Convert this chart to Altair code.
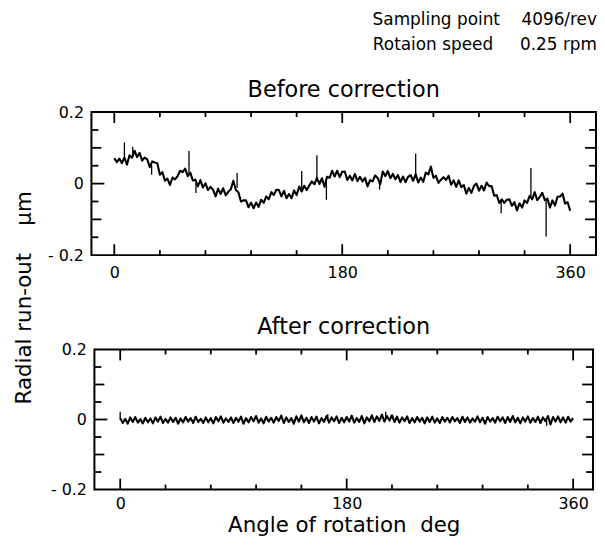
import altair as alt
import pandas as pd

# ---------------- data ----------------
ANGLES = list(range(0, 361, 2))  # sampling grid, deg

BEFORE = [0.071, 0.060, 0.070, 0.057, 0.073, 0.053, 0.079, 0.072, 0.092, 0.074,
          0.086, 0.064, 0.073, 0.068, 0.046, 0.062, 0.059, 0.057, 0.025, 0.032,
          0.008, 0.014, -0.004, 0.017, 0.012, 0.021, 0.036, 0.032, 0.042, 0.021,
          0.031, 0.009, 0.011, -0.008, 0.010, -0.011, 0.001, -0.018, -0.009, -0.017,
          -0.036, -0.014, -0.029, -0.013, -0.033, -0.023, -0.016, 0.008, -0.018, -0.024,
          -0.050, -0.047, -0.047, -0.066, -0.053, -0.069, -0.053, -0.065, -0.045, -0.054,
          -0.036, -0.044, -0.024, -0.032, -0.017, -0.018, -0.036, -0.020, -0.041, -0.029,
          -0.041, -0.019, -0.032, -0.008, -0.022, -0.006, -0.018, -0.005, 0.006, -0.002,
          0.016, -0.001, 0.015, -0.009, 0.019, 0.016, 0.036, 0.020, 0.036, 0.018,
          0.033, 0.034, 0.010, 0.022, 0.009, 0.027, 0.007, 0.019, 0.006, 0.016,
          -0.008, 0.010, 0.006, 0.023, 0.016, -0.002, 0.034, 0.021, 0.035, 0.015,
          0.027, 0.012, 0.024, 0.004, 0.020, 0.004, 0.019, 0.024, 0.008, 0.026,
          0.003, 0.017, 0.005, 0.031, 0.026, 0.048, 0.016, 0.022, 0.002, 0.011,
          0.018, 0.010, 0.022, -0.003, 0.009, -0.009, 0.009, -0.010, -0.004, -0.028,
          -0.012, -0.026, -0.007, 0.000, -0.020, -0.006, -0.019, 0.003, -0.007, -0.007,
          -0.034, -0.032, -0.054, -0.044, -0.054, -0.045, -0.044, -0.062, -0.052, -0.075,
          -0.055, -0.067, -0.047, -0.054, -0.034, -0.044, -0.024, -0.046, -0.037, -0.026,
          -0.046, -0.042, -0.067, -0.047, -0.061, -0.037, -0.036, -0.028, -0.056, -0.052,
          -0.076]

AFTER = [0.004, -0.010, 0.002, -0.012, 0.006, -0.007, 0.007, -0.009, 0.001, -0.011, 0.005,
         -0.008, 0.003, -0.011, 0.006, -0.006, 0.008, -0.010, 0.002, -0.009, 0.006, -0.007,
         0.005, -0.012, 0.003, -0.008, 0.007, -0.006, 0.004, -0.010, 0.008, -0.007, 0.002,
         -0.010, 0.006, -0.008, 0.004, -0.011, 0.007, -0.005, 0.009, -0.009, 0.003, -0.007,
         0.006, -0.010, 0.005, -0.006, 0.008, -0.012, 0.004, -0.008, 0.007, -0.005, 0.010,
         -0.009, 0.003, -0.011, 0.008, -0.006, 0.005, -0.009, 0.007, -0.004, 0.011, -0.010,
         0.006, -0.007, 0.004, -0.012, 0.009, -0.006, 0.012, -0.008, 0.005, -0.010, 0.007,
         -0.006, 0.008, -0.011, 0.004, -0.007, 0.010, -0.009, 0.006, -0.005, 0.009, -0.010,
         0.005, -0.008, 0.007, -0.006, 0.011, -0.009, 0.004, -0.007, 0.010, -0.011, 0.006,
         -0.005, 0.012, -0.007, 0.009, -0.004, 0.014, -0.006, 0.010, -0.003, 0.012, -0.007,
         0.008, -0.009, 0.006, -0.005, 0.009, -0.010, 0.004, -0.008, 0.007, -0.006, 0.005,
         -0.011, 0.006, -0.007, 0.008, -0.009, 0.003, -0.010, 0.007, -0.006, 0.005, -0.008,
         0.007, -0.005, 0.004, -0.010, 0.008, -0.007, 0.006, -0.009, 0.003, -0.006, 0.009,
         -0.008, 0.005, -0.012, 0.007, -0.006, 0.004, -0.009, 0.008, -0.005, 0.006, -0.010,
         0.007, -0.007, 0.010, -0.008, 0.005, -0.011, 0.006, -0.006, 0.009, -0.009, 0.004,
         -0.007, 0.008, -0.010, 0.006, -0.005, 0.010, -0.014, 0.007, -0.006, 0.009, -0.008,
         0.006, -0.009, 0.008, -0.006, 0.004]

# isolated spikes (angle, start value, tip value)
BEFORE_SPIKE_DEG = [8, 14.6, 29.5, 59, 64.5, 97, 148, 160, 167.5, 209.5, 238, 305.5, 329, 341]
BEFORE_SPIKE_FROM = [0.068, 0.076, 0.052, 0.030, 0.002, -0.012, -0.014, 0.006, 0.005, 0.005,
                     0.016, -0.048, -0.040, -0.045]
BEFORE_SPIKE_TO = [0.115, 0.103, 0.025, 0.091, -0.026, 0.030, 0.035, 0.079, -0.045, -0.017,
                   0.084, -0.083, 0.044, -0.148]

AFTER_SPIKE_DEG = [0, 165, 211, 339]
AFTER_SPIKE_FROM = [0.0, 0.003, 0.004, -0.004]
AFTER_SPIKE_TO = [0.022, 0.016, 0.022, -0.018]

# tick positions
X_MAJOR = [0, 180, 360]
X_MINOR = [36, 72, 108, 144, 216, 252, 288, 324]
Y_LABELLED = [-0.2, 0, 0.2]
Y_ZERO = [0]
Y_MID = [-0.1, 0.1]
Y_MINOR = [-0.15, -0.05, 0.05, 0.15]

FONT = "DejaVu Sans"
YLAB = "datum.value < 0 ? '- 0.2' : (datum.value > 0 ? '0.2' : '0')"
YDOM = [-0.2, 0.2]


def panel(vals, sp_deg, sp_from, sp_to, width, height, xdom, title, xlabpad,
          xtitle=None, ytitle=None):
    df = pd.DataFrame({"deg": ANGLES, "val": vals})
    sp = pd.DataFrame({"deg": sp_deg, "val": sp_from, "val2": sp_to})
    xs = alt.Scale(domain=xdom, nice=False, zero=False)
    ys = alt.Scale(domain=YDOM, nice=False, zero=False)
    # one pixel in data units for this panel
    dx = (xdom[1] - xdom[0]) / width
    dy = (YDOM[1] - YDOM[0]) / height

    xkw = dict(values=X_MAJOR, ticks=False, tickSize=0, domain=False, grid=False,
               labelPadding=xlabpad, orient="bottom")
    if xtitle:
        xkw.update(title=xtitle, titleFont=FONT, titleFontSize=21.5, titleFontWeight="normal",
                   titlePadding=3, titleColor="black")
    else:
        xkw.update(title=None)
    ykw = dict(values=Y_LABELLED, ticks=False, tickSize=0, domain=False, grid=False,
               labelExpr=YLAB, labelPadding=8, orient="left")
    if ytitle:
        ykw.update(title=ytitle, titleFont=FONT, titleFontSize=21.5, titleFontWeight="normal",
                   titleX=-61, titleY=186.5, titleBaseline="alphabetic", titleAngle=270,
                   titleAlign="center", titleColor="black")
    else:
        ykw.update(title=None)

    line = alt.Chart(df).mark_line(color="black", strokeWidth=2.1, strokeJoin="round").encode(
        x=alt.X("deg:Q", scale=xs, axis=alt.Axis(**xkw)),
        y=alt.Y("val:Q", scale=ys, axis=alt.Axis(**ykw)),
    )
    spikes = alt.Chart(sp).mark_rule(color="black", strokeWidth=1.3).encode(
        x=alt.X("deg:Q"), y=alt.Y("val:Q"), y2="val2:Q",
    )

    # inward tick marks drawn as thin filled bars from the frame edges
    hw = 0.9
    xt = []
    for vs, n in [(X_MAJOR, 11), (X_MINOR, 5)]:
        for v in vs:
            xt.append((v - hw * dx, v + hw * dx, YDOM[0], YDOM[0] + n * dy))
            xt.append((v - hw * dx, v + hw * dx, YDOM[1] - n * dy, YDOM[1]))
    for vs, nl, nr in [(Y_ZERO, 13, 10), (Y_MID, 10, 11), (Y_MINOR, 7, 7)]:
        for v in vs:
            xt.append((xdom[0], xdom[0] + nl * dx, v - hw * dy, v + hw * dy))
            xt.append((xdom[1] - nr * dx, xdom[1], v - hw * dy, v + hw * dy))
    tk = pd.DataFrame(xt, columns=["deg", "deg2", "val", "val2"])
    ticks = alt.Chart(tk).mark_rect(color="black").encode(
        x=alt.X("deg:Q"), x2="deg2:Q", y=alt.Y("val:Q"), y2="val2:Q")

    return alt.layer(line, spikes, ticks).properties(
        width=width, height=height,
        title=alt.TitleParams(title, font=FONT, fontSize=22.5, fontWeight="normal",
                              offset=3, anchor="middle", color="black"),
    )


top = panel(BEFORE, BEFORE_SPIKE_DEG, BEFORE_SPIKE_FROM, BEFORE_SPIKE_TO,
            508, 144, [-18.04, 380.4], "Before correction", 10,
            ytitle="Radial run-out\u00a0\u00a0\u00a0\u00a0\u00b5m")
bottom = panel(AFTER, AFTER_SPIKE_DEG, AFTER_SPIKE_FROM, AFTER_SPIKE_TO,
               502, 141, [-20.5, 375.8], "After correction", 6,
               xtitle="Angle of rotation\u00a0\u00a0deg")

chart = alt.vconcat(top, bottom, spacing=95, bounds="flush", center=True).properties(
    padding={"left": 5, "top": 1, "right": 0, "bottom": 0},
    title=alt.TitleParams(
        ["Sampling point\u00a0\u00a0\u00a0\u00a04096/rev",
         "Rotaion speed\u00a0\u00a0\u00a0\u00a0\u00a00.25 rpm"],
        anchor="end", font=FONT, fontSize=17, fontWeight="normal",
        lineHeight=25, offset=24, color="black"),
).configure_view(
    stroke="black", strokeWidth=2
).configure_axis(
    labelColor="black", labelFont=FONT, labelFontSize=16, labelFlush=False
)

chart.save("out.html", embed_options={"renderer": "svg", "actions": False})
